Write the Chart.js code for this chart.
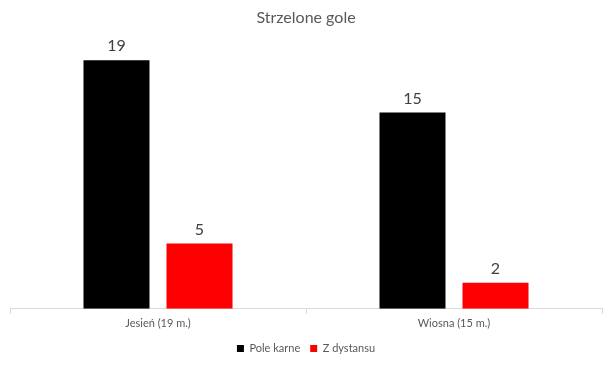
<!DOCTYPE html>
<html>
<head>
<meta charset="utf-8">
<script src="https://cdn.jsdelivr.net/npm/chart.js@4"></script>
<style>
  body { margin: 0; background: #fff; }
  #wrap { width: 614px; height: 366px; }
</style>
</head>
<body>
<div id="wrap"><canvas id="chart" width="614" height="366"></canvas></div>
<script>
// Chart data
const categories = ['Jesień (19 m.)', 'Wiosna (15 m.)'];
const seriesNames = ['Pole karne', 'Z dystansu'];
const poleKarne = [19, 15];
const zDystansu = [5, 2];

const FONT = 'Lato, Carlito, Calibri, sans-serif';

// Value labels above each bar
const valueLabels = {
  id: 'valueLabels',
  afterDatasetsDraw(chart) {
    const ctx = chart.ctx;
    ctx.save();
    ctx.font = '16px ' + FONT;
    ctx.fillStyle = '#404040';
    ctx.textAlign = 'center';
    ctx.textBaseline = 'bottom';
    chart.data.datasets.forEach((ds, i) => {
      chart.getDatasetMeta(i).data.forEach((bar, j) => {
        ctx.fillText(ds.data[j], bar.x, bar.y - 6);
      });
    });
    ctx.restore();
  }
};

new Chart(document.getElementById('chart'), {
  type: 'bar',
  data: {
    labels: categories,
    datasets: [
      { label: seriesNames[0], data: poleKarne, backgroundColor: '#000000' },
      { label: seriesNames[1], data: zDystansu, backgroundColor: '#ff0000' }
    ]
  },
  options: {
    responsive: false,
    animation: false,
    layout: { padding: { left: 10, right: 12, bottom: 2 } },
    datasets: { bar: { categoryPercentage: 0.561, barPercentage: 0.795 } },
    plugins: {
      title: {
        display: true,
        text: 'Strzelone gole',
        color: '#595959',
        font: { family: FONT, size: 16, weight: 'normal' },
        padding: { top: 8, bottom: 20 }
      },
      legend: {
        position: 'bottom',
        labels: {
          color: '#595959',
          font: { family: FONT, size: 11 },
          boxWidth: 7,
          boxHeight: 7,
          padding: 10
        }
      },
      tooltip: { enabled: false }
    },
    scales: {
      x: {
        grid: { drawOnChartArea: false, drawTicks: true, tickLength: 5, color: '#d9d9d9' },
        border: { color: '#d9d9d9' },
        ticks: { color: '#595959', font: { family: FONT, size: 11 }, padding: 3 }
      },
      y: { display: false, min: 0, max: 20 }
    }
  },
  plugins: [valueLabels]
});
</script>
</body>
</html>
